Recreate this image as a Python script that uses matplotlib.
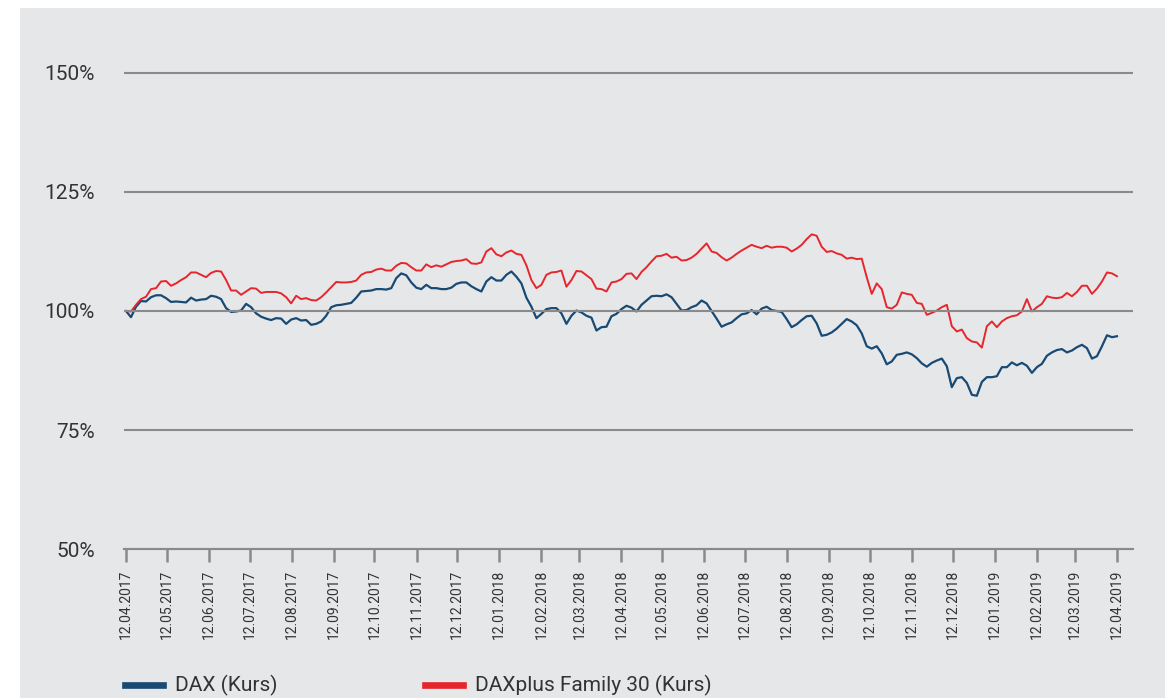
import numpy as np
import pandas as pd
import matplotlib
matplotlib.use('Agg')
from matplotlib import pyplot as plt
from matplotlib.patches import Rectangle
from matplotlib.lines import Line2D
import matplotlib.dates as mdates

plt.rcParams['font.family'] = ['Roboto', 'DejaVu Sans']

start_date = '2017-04-12'
end_date = '2019-04-12'

# index level in %, sampled evenly over the period
dax_values = [
    100.0, 98.7, 100.9, 102.1, 102.0, 102.9, 103.3, 103.3, 102.7, 101.9, 102.0, 101.9, 101.8, 102.8,
    102.2, 102.4, 102.5, 103.2, 103.0, 102.5, 100.6, 99.8, 99.9, 100.1, 101.5, 100.8, 99.5, 98.8,
    98.4, 98.1, 98.5, 98.4, 97.3, 98.2, 98.5, 98.0, 98.1, 97.1, 97.3, 97.8, 99.0,
    100.8, 101.2, 101.3, 101.5, 101.7, 102.8, 104.1, 104.2, 104.3, 104.6, 104.6, 104.5, 104.8, 106.9,
    107.9, 107.5, 106.0, 104.9, 104.6, 105.5, 104.8, 104.8, 104.6, 104.6, 104.9, 105.7, 106.0, 106.0,
    105.2, 104.6, 104.1, 106.2, 107.1, 106.4, 106.4, 107.6, 108.3, 107.2, 105.8, 102.8,
    100.9, 98.5, 99.4, 100.4, 100.6, 100.6, 99.5, 97.3, 99.0, 100.1, 99.7, 99.0, 98.6, 95.9,
    96.6, 96.7, 98.9, 99.4, 100.4, 101.1, 100.7, 99.9, 101.3, 102.2, 103.1, 103.2, 103.1, 103.5,
    102.9, 101.5, 100.1, 100.2, 100.8, 101.2, 102.2, 101.6, 100.0, 98.4, 96.7, 97.2,
    97.6, 98.5, 99.3, 99.5, 100.2, 99.3, 100.5, 100.9, 100.2, 100.0, 99.8, 98.3, 96.6, 97.2,
    98.1, 98.9, 99.0, 97.4, 94.8, 95.0, 95.5, 96.3, 97.3, 98.3, 97.8, 97.0, 95.3, 92.6,
    92.1, 92.6, 91.1, 88.8, 89.4, 90.8, 91.0, 91.3, 90.9, 90.1, 89.0, 88.3,
    89.1, 89.6, 90.0, 88.4, 84.0, 85.9, 86.1, 84.9, 82.4, 82.2, 85.1, 86.1, 86.1, 86.3,
    88.2, 88.2, 89.2, 88.6, 89.1, 88.5, 87.0, 88.2, 88.9, 90.6, 91.3, 91.8, 92.0, 91.3,
    91.7, 92.4, 92.9, 92.2, 90.0, 90.5, 92.6, 94.9, 94.5, 94.7,
]

family_values = [
    100.0, 99.9, 101.3, 102.5, 103.0, 104.6, 104.8, 106.2, 106.3, 105.3, 105.8, 106.5, 107.1, 108.1,
    108.1, 107.6, 107.1, 108.0, 108.4, 108.3, 106.5, 104.3, 104.3, 103.4, 104.1, 104.8, 104.7, 103.8,
    104.0, 104.0, 104.0, 103.7, 102.9, 101.6, 103.2, 102.5, 102.7, 102.3, 102.2, 102.9, 103.9,
    105.0, 106.1, 106.0, 106.0, 106.1, 106.4, 107.6, 108.1, 108.2, 108.7, 108.9, 108.5, 108.5, 109.5,
    110.1, 110.0, 109.2, 108.5, 108.5, 109.8, 109.2, 109.6, 109.3, 109.8, 110.3, 110.5, 110.6, 110.9,
    110.0, 109.9, 110.2, 112.5, 113.2, 111.9, 111.5, 112.3, 112.7, 112.0, 111.8, 109.6,
    106.5, 104.8, 105.5, 107.6, 108.1, 108.2, 108.5, 105.1, 106.5, 108.4, 108.3, 107.5, 106.7, 104.7,
    104.6, 104.1, 106.0, 106.2, 106.7, 107.8, 107.9, 106.7, 108.2, 109.2, 110.4, 111.5, 111.6, 112.0,
    111.2, 111.4, 110.6, 110.7, 111.2, 112.0, 113.1, 114.2, 112.5, 112.2, 111.3, 110.6,
    111.2, 112.0, 112.7, 113.3, 113.9, 113.5, 113.2, 113.7, 113.3, 113.5, 113.5, 113.3, 112.5, 113.1,
    113.9, 115.1, 116.1, 115.8, 113.5, 112.4, 112.6, 112.1, 111.8, 111.0, 111.2, 110.9, 111.0, 107.1,
    103.6, 105.8, 104.6, 100.8, 100.5, 101.3, 103.9, 103.6, 103.4, 101.7, 101.5, 99.2,
    99.6, 100.1, 100.8, 101.3, 96.8, 95.7, 96.1, 94.3, 93.6, 93.4, 92.3, 96.8, 97.8, 96.6,
    97.8, 98.5, 98.9, 99.1, 99.9, 102.5, 99.9, 100.8, 101.5, 103.1, 102.8, 102.7, 102.9, 103.8,
    103.1, 104.0, 105.3, 105.3, 103.6, 104.7, 106.2, 108.1, 107.9, 107.3,
]

y_ticks = [50, 75, 100, 125, 150]
series_labels = ['DAX (Kurs)', 'DAXplus Family 30 (Kurs)']
colors = ['#184a74', '#e5262d']

dates = pd.date_range(start_date, end_date, periods=len(dax_values))
tick_dates = pd.date_range(start_date, end_date, freq=pd.DateOffset(months=1))

W, H = 1165, 698
fig = plt.figure(figsize=(W / 100, H / 100), dpi=100)
fig.patch.set_facecolor('white')
fig.add_artist(Rectangle((20 / W, 0), 1, (H - 8) / H, transform=fig.transFigure,
                         facecolor='#e6e7e9', edgecolor='none', zorder=0))

ax = fig.add_axes([124 / W, (H - 551.4) / H, 1009 / W, (551.4 - 70.6) / H])
ax.set_facecolor('none')

ax.plot(dates, dax_values, color=colors[0], lw=1.6, zorder=2)
ax.plot(dates, family_values, color=colors[1], lw=1.4, zorder=2)

x0 = mdates.date2num(pd.Timestamp(start_date))
ax.set_xlim(x0 - 1.47, x0 + 741.8)
ax.set_ylim(49.5, 150.5)

ax.set_yticks(y_ticks)
ax.set_yticklabels([f'{v}%' for v in y_ticks])
ax.set_xticks(tick_dates)
ax.set_xticklabels([d.strftime('%d.%m.%Y') for d in tick_dates])

ax.grid(axis='y', color='#8a8a8a', lw=1.5, zorder=3)
ax.set_axisbelow(False)
for side in ['top', 'right', 'left']:
    ax.spines[side].set_visible(False)
ax.spines['bottom'].set_position(('data', 50))
ax.spines['bottom'].set_color('#8a8a8a')
ax.spines['bottom'].set_linewidth(1.5)

ax.tick_params(axis='y', length=0, pad=21, labelsize=15, labelcolor='#333333')
ax.tick_params(axis='x', length=9, width=1.8, color='#8a8a8a', pad=6,
               labelsize=10, labelcolor='#333333', labelrotation=90)

# legend below the chart
for i, (label, c) in enumerate(zip(series_labels, colors)):
    lx = (125 + 300 * i) / W
    fig.add_artist(Line2D([lx, lx + 38 / W], [13 / H, 13 / H], color=c, lw=4.8,
                          transform=fig.transFigure))
    fig.text(lx + 50 / W, 13 / H, label, fontsize=15, color='#333333', va='center')

fig.savefig('out.png', dpi=100)
